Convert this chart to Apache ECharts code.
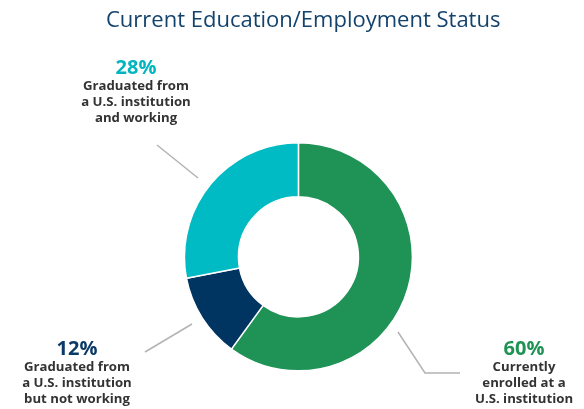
<!DOCTYPE html>
<html><head><meta charset="utf-8">
<script src="https://cdn.jsdelivr.net/npm/echarts@6/dist/echarts.min.js"></script>
<style>html,body{margin:0;padding:0;background:#fff}#c{width:584px;height:409px}</style>
</head><body><div id="c"></div>
<script>
// Data
const categories = [
  'Currently\nenrolled at a\nU.S. institution',
  'Graduated from\na U.S. institution\nbut not working',
  'Graduated from\na U.S. institution\nand working'
];
const values = [60, 12, 28];

// Styles / layout (not data)
const sliceColors = ['#1f9256', '#003562', '#00bac4'];
const pctColors = ['#1f9256', '#0b3a67', '#00b5c0'];
const labelAnchors = [
  { x: 524, y: 373, line: [[398, 332], [425, 373], [460, 373]] },
  { x: 77,  y: 373, line: [[192, 324], [145, 352], [145, 352]] },
  { x: 136, y: 92,  line: [[198, 178], [157, 145], [157, 145]] }
];

const chart = echarts.init(document.getElementById('c'), null, { renderer: 'canvas' });

const rich = {};
pctColors.forEach((c, i) => {
  rich['p' + i] = { fontFamily: 'Open Sans', fontWeight: 'bold', fontSize: 20, color: c, lineHeight: 20, align: 'center' };
});
rich.t = { fontFamily: 'Open Sans', fontWeight: 'bold', fontSize: 13.2, color: '#333333', lineHeight: 16, align: 'center' };

chart.setOption({
  animation: false,
  title: {
    text: 'Current Education/Employment Status',
    left: 101,
    top: 5,
    textStyle: { fontFamily: 'Open Sans', fontWeight: 500, fontSize: 22, color: '#13436d' }
  },
  series: [{
    type: 'pie',
    center: ['51.1%', '62.8%'],
    radius: [60, 114],
    startAngle: 90,
    clockwise: true,
    avoidLabelOverlap: false,
    itemStyle: { borderColor: '#ffffff', borderWidth: 1.5 },
    label: {
      show: true,
      position: 'outside',
      formatter: (p) => {
        const lines = p.name.split('\n').map(s => '{t|' + s + '}').join('\n');
        return '{p' + p.dataIndex + '|' + p.value + '%}\n' + lines;
      },
      rich: rich
    },
    labelLine: { show: true, lineStyle: { color: '#b3b3b3', width: 1.5 } },
    labelLayout: (params) => {
      const a = labelAnchors[params.dataIndex];
      return { x: a.x, y: a.y, align: 'center', verticalAlign: 'middle', labelLinePoints: a.line };
    },
    emphasis: { disabled: true },
    data: categories.map((n, i) => ({ name: n, value: values[i], itemStyle: { color: sliceColors[i] } }))
  }]
});
</script>
</body></html>
